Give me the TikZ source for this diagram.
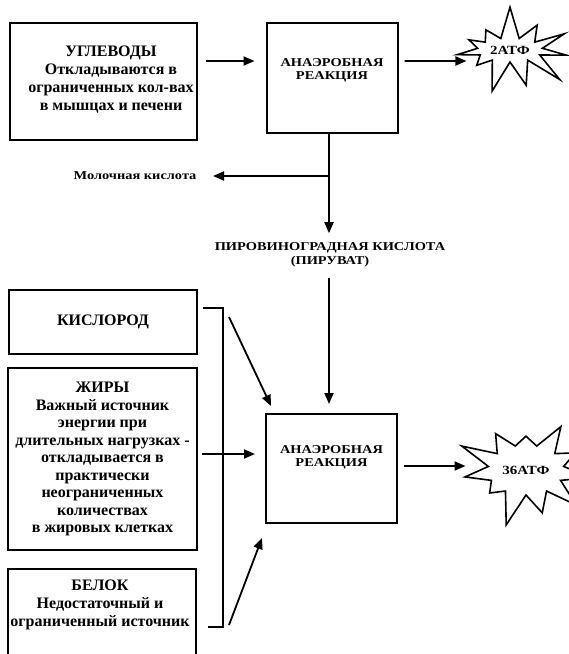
\documentclass[tikz,border=0pt]{standalone}
\usepackage{fontspec}
\setmainfont{Liberation Serif}
\newfontfamily\widefont[FakeStretch=1.2]{Liberation Serif}
\usetikzlibrary{positioning,calc,arrows.meta,shapes.symbols}

\begin{document}
\begin{tikzpicture}[x=1pt,y=1pt,
  blk/.style={draw,line width=2pt,align=center,font=\bfseries\fontsize{16}{17.5}\selectfont},
  txt/.style={align=center,font=\bfseries\fontsize{16}{18}\selectfont},
  capt/.style={align=center,font=\widefont\bfseries\fontsize{12}{13}\selectfont},
  arr/.style={-{Triangle[length=11pt,width=9pt]},line width=1.8pt},
  burst/.style={draw,starburst,starburst points=11,starburst point height=34pt,
    line width=1.6pt,font=\widefont\bfseries\fontsize{12.5}{13}\selectfont}]
 \useasboundingbox (0,0) rectangle (569,-654);
 \clip (0,0) rectangle (569,-654);
 \node[blk,minimum width=187pt,minimum height=117pt] (ugl) at (103.5,-81.5) {};
 \node[txt] (uglt) at (111,-80)
  {УГЛЕВОДЫ\\Откладываются в\\ограниченных кол-вах\\в мышцах и печени};
 \node[blk,minimum width=131pt,minimum height=110pt] (anA) at (332,-78) {};
 \node[capt,below=33pt of anA.north] (anAt) {АНАЭРОБНАЯ\\РЕАКЦИЯ};
 \node[burst,random starburst=7,minimum width=116pt,minimum height=92pt] (atfA) at (510,-50) {2АТФ};
 \node[capt,anchor=east] (milk) at (200,-176) {Молочная кислота};
 \node[capt,font=\widefont\bfseries\fontsize{12}{14}\selectfont] (pyr) at (330,-255)
  {ПИРОВИНОГРАДНАЯ КИСЛОТА\\(ПИРУВАТ)};
 \node[blk,minimum width=188pt,minimum height=64pt] (kisl) at (103,-322) {КИСЛОРОД};
 \node[blk,minimum width=189pt,minimum height=182pt] (zhir) at (102.5,-459)
  {ЖИРЫ\\Важный источник\\энергии при\\длительных нагрузках -\\откладывается в\\практически\\неограниченных\\количествах\\в жировых клетках};
 \node[blk,minimum width=188pt,minimum height=100pt] (belok) at (102,-619) {};
 \node[txt] (belokt) at (100,-605)
  {БЕЛОК\\Недостаточный и\\ограниченный источник};
 \node[blk,minimum width=131pt,minimum height=109pt] (anB) at (331.5,-468.5) {};
 \node[capt,below=29pt of anB.north] (anBt) {АНАЭРОБНАЯ\\РЕАКЦИЯ};
 \node[burst,random starburst=23,minimum width=122pt,minimum height=118pt] (atfB) at (526,-470) {36АТФ};

 \draw[arr] ($(ugl.east)+(8,20.5)$) -- ($(anA.west)+(-11,17)$);
 \draw[arr] ($(anA.east)+(6,17)$) -- ($(atfA.west)+(-3,-11)$);
 \draw[arr,shorten >=6pt] ([xshift=-3pt]anA.south) -- ([xshift=-3pt]anA.south |- pyr.north);
 \draw[arr,shorten >=13pt] ([xshift=-3pt]anA.south |- milk.east) -- (milk.east);
 \draw[arr,shorten <=7pt,shorten >=9pt] ([xshift=-2.5pt]anB.north |- pyr.south) -- ([xshift=-2.5pt]anB.north);
 \draw[arr,shorten <=4pt,shorten >=10pt] ($(zhir.east)+(0,5)$) -- ($(anB.west)+(0,14.5)$);
 \draw[arr] ($(anB.east)+(6,2.5)$) -- ($(atfB.west)+(-13,4)$);
 \draw[line width=1.8pt] ($(kisl.east)+(5,14)$) -| ($(belok.east)+(26,-8)$) -- ++(-15,0);
 \path[arr] ($(kisl.east)+(31,5)$) edge ($(anB.north west)+(6,7)$)
  ($(belok.east)+(32,-6)$) edge ($(anB.south west)+(-3,-14)$);
\end{tikzpicture}
\end{document}
